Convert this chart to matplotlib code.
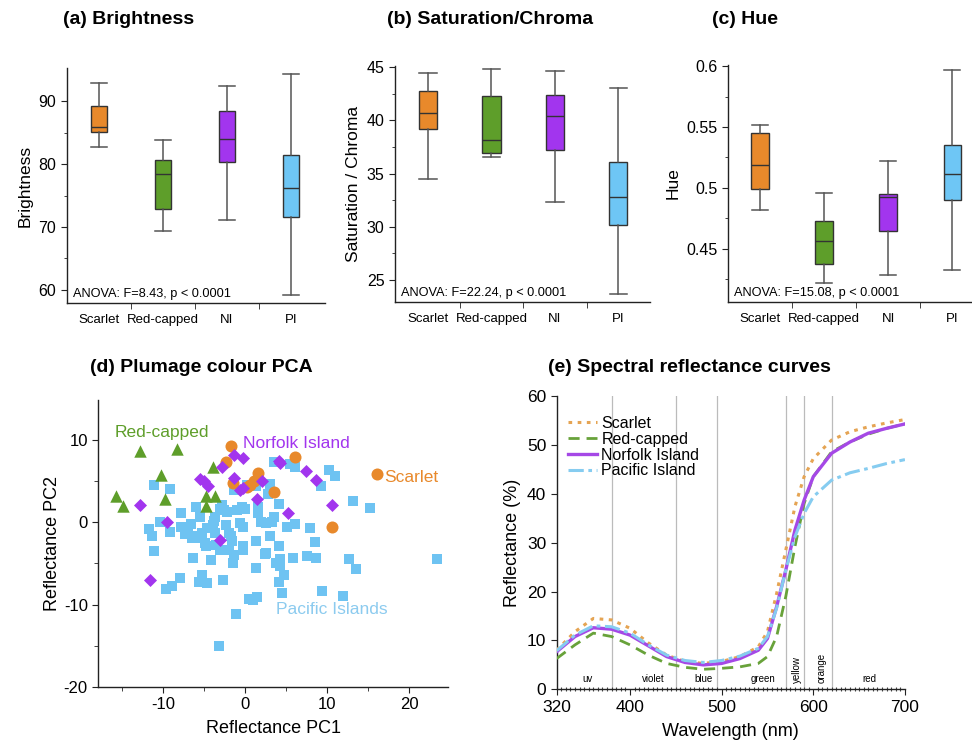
import matplotlib
matplotlib.use("Agg")
import matplotlib.pyplot as plt
from matplotlib.ticker import MultipleLocator, FixedLocator

plt.rcParams['font.family'] = ['Liberation Sans', 'DejaVu Sans']
plt.rcParams['axes.unicode_minus'] = False

# ---------------- data ----------------
groups = ["Scarlet", "Red-capped", "NI", "PI"]
box_colors = ["#E8892B", "#5E9E2A", "#A235EE", "#6EC6F5"]

# box summaries: whisker low, q1, median, q3, whisker high
bright_lo = [82.8, 69.4, 71.1, 59.1]
bright_q1 = [85.1, 72.8, 80.4, 71.6]
bright_med = [86.0, 78.5, 84.0, 76.2]
bright_q3 = [89.3, 80.7, 88.5, 81.5]
bright_hi = [92.9, 83.8, 92.4, 94.4]

sat_lo = [34.5, 36.6, 32.3, 23.7]
sat_q1 = [39.2, 36.9, 37.2, 30.2]
sat_med = [40.7, 38.2, 40.4, 32.8]
sat_q3 = [42.8, 42.3, 42.4, 36.1]
sat_hi = [44.4, 44.8, 44.6, 43.0]

hue_lo = [0.482, 0.422, 0.428, 0.432]
hue_q1 = [0.499, 0.437, 0.4645, 0.490]
hue_med = [0.519, 0.456, 0.4926, 0.511]
hue_q3 = [0.545, 0.473, 0.4945, 0.5355]
hue_hi = [0.5516, 0.496, 0.5224, 0.597]

anova_bright = "ANOVA: F=8.43, p < 0.0001"
anova_sat = "ANOVA: F=22.24, p < 0.0001"
anova_hue = "ANOVA: F=15.08, p < 0.0001"

# PCA scores
pi_x = [3.5, 5.5, 6.1, 10.3, 11.0, 9.3, 13.2, 15.2,
        -11.1, -9.1, 3.0, 2.8, 4.1, 1.4, -1.4, 0.3,
        -7.8, -10.4, -11.7, -11.3, -11.1, -9.1, -7.8, -6.9, -6.6, -6.0, -5.5, -6.1, -5.6, -5.2, -4.9, -4.7, -4.1, -6.3, -3.5,
        -2.8, -3.1, -3.7, -3.8, -2.6, -2.2, -2.3, -2.0, -1.7, -1.6, -3.0, -2.0, -1.3, -1.5,
        -1.0, -0.4, 0.0, -0.6, -0.2, -0.3, -0.3, 1.4, 1.6, 1.6, 2.0, 2.6, 3.3, 3.5, 3.0, 2.6,
        4.1, 4.3, 3.8, 4.3, 4.7, 4.1, 4.5, 5.1, 6.1, 5.8, 7.9, 7.6, 8.5, 8.7, 9.4, 11.9, 12.7, 13.5, 23.4,
        -9.6, -8.9, -7.9, -5.6, -5.2, -4.6, -2.7, 0.5, 1.0, 1.5, -1.1, -3.2,
        -3.9, -3.7, -4.6, -7.3, -6.5, 1.3, 2.5]
pi_y = [7.3, 7.1, 6.7, 6.4, 5.7, 4.4, 2.6, 1.7,
        4.5, 4.1, 4.7, 3.4, 2.3, 4.4, 4.0, 4.5,
        1.1, 0.0, -0.8, -1.6, -3.5, -1.2, -0.5, -1.3, -0.2, 1.9, 0.7, -1.7, -1.9, -1.3, -2.5, -2.9, -4.6, -4.3, -2.8,
        2.1, 1.6, 0.7, 0.2, 1.5, 1.3, -0.3, -1.3, -1.7, -2.3, -3.3, -3.3, -4.0, -4.9,
        1.5, 1.9, 1.6, -0.1, -0.5, -2.9, -3.4, -2.3, 1.9, 1.1, 0.0, -0.1, 0.1, 0.6, -1.7, -3.7,
        -2.9, -4.5, -4.9, -5.3, -6.4, -7.2, -8.6, -0.5, -0.2, -4.3, -0.7, -4.1, -2.4, -4.3, -8.4, -8.9, -4.5, -5.7, -4.5,
        -8.1, -7.8, -6.8, -7.3, -6.4, -7.4, -7.0, -9.3, -9.5, -9.1, -11.1, -15.1,
        -0.3, -1.3, -0.7, -1.4, -1.9, -5.5, -3.8]

rc_x = [-12.8, -8.3, -10.2, -3.9, -15.7, -14.9, -9.8, -4.7, -3.6, -4.8]
rc_y = [8.7, 8.9, 5.8, 6.7, 3.2, 2.0, 2.8, 3.2, 3.2, 2.0]

sc_x = [-1.75, -2.3, 6.1, 1.6, -1.5, 0.6, 1.1, 3.5, 16.1, 10.6, 0.2]
sc_y = [9.3, 7.3, 8.0, 6.0, 4.8, 4.6, 5.0, 3.7, 5.9, -0.6, 4.3]

ni_x = [-1.4, -0.3, -2.8, 4.1, 4.3, 7.4, 8.7, -5.5, -5.0, -4.5, -1.4, -0.6, 2.1, 1.5,
        -12.8, -9.5, 5.3, 10.6, -3.0, -11.6, -0.2]
ni_y = [8.2, 7.8, 6.7, 7.5, 7.2, 6.3, 5.2, 5.3, 5.0, 4.4, 5.4, 4.0, 5.0, 2.9,
        2.1, 0.1, 1.1, 2.1, -2.2, -7.0, 4.2]

# spectral reflectance (%)
wavelength = [320, 340, 360, 380, 400, 420, 440, 460, 480, 500, 520, 540, 550,
              560, 570, 580, 590, 600, 620, 640, 660, 680, 700]
refl_scarlet = [8.0, 11.8, 14.5, 14.2, 12.5, 9.5, 7.0, 5.7, 5.3, 5.7, 6.7, 8.7, 11.8,
                19.6, 28.5, 37.4, 43.5, 47.2, 51.0, 52.7, 53.7, 54.5, 55.2]
refl_redcapped = [6.3, 9.1, 11.5, 10.8, 9.1, 7.0, 5.3, 4.5, 4.1, 4.3, 4.6, 5.3, 6.7,
                  10.8, 19.0, 29.2, 38.0, 43.5, 48.6, 50.6, 52.2, 53.4, 54.3]
refl_norfolk = [7.7, 10.8, 12.6, 12.3, 11.1, 8.9, 6.7, 5.5, 5.0, 5.3, 6.3, 8.0, 10.4,
                16.9, 24.4, 32.6, 38.7, 43.5, 48.3, 50.6, 52.4, 53.4, 54.3]
refl_pacific = [7.9, 11.1, 13.0, 12.8, 11.5, 9.1, 7.0, 5.9, 5.5, 5.9, 6.8, 8.4, 10.8,
                16.6, 24.4, 31.2, 36.0, 39.4, 42.8, 44.3, 45.2, 46.2, 47.0]

band_edges = [380, 450, 495, 570, 590, 620]
band_names = ["uv", "violet", "blue", "green", "yellow", "orange", "red"]
band_centres = [354, 425, 480, 545, 582, 609, 661]

# ---------------- figure ----------------
fig = plt.figure(figsize=(9.72, 7.47), dpi=100)


def style_axes(ax):
    for s in ("top", "right"):
        ax.spines[s].set_visible(False)
    for s in ("left", "bottom"):
        ax.spines[s].set_color("#222222")
        ax.spines[s].set_linewidth(1.0)


def box_panel(rect, lo, q1, med, q3, hi, ylim, yticks, ylabel, anova, xlim, width):
    ax = fig.add_axes(rect)
    stats = []
    for i in range(len(groups)):
        stats.append(dict(whislo=lo[i], q1=q1[i], med=med[i], q3=q3[i],
                          whishi=hi[i], fliers=[], label=groups[i]))
    bp = ax.bxp(stats, positions=[1, 2, 3, 4], widths=width, patch_artist=True,
                showfliers=False,
                boxprops=dict(edgecolor="#333333", linewidth=1.0),
                medianprops=dict(color="#333333", linewidth=1.0),
                whiskerprops=dict(color="#555555", linewidth=1.1),
                capprops=dict(color="#555555", linewidth=1.1),
                capwidths=width * 0.95)
    for patch, c in zip(bp["boxes"], box_colors):
        patch.set_facecolor(c)
    style_axes(ax)
    ax.set_xlim(*xlim)
    ax.set_ylim(*ylim)
    ax.set_xticks([1, 2, 3, 4])
    ax.set_xticklabels(groups, fontsize=9.5)
    ax.tick_params(axis="x", which="major", length=0, pad=8)
    ax.xaxis.set_minor_locator(FixedLocator([1.5, 2.5, 3.5]))
    ax.tick_params(axis="x", which="minor", length=4, direction="out", color="#222222")
    ax.set_yticks(yticks)
    ax.tick_params(axis="y", which="major", labelsize=11.5, length=4, color="#222222")
    ax.set_ylabel(ylabel, fontsize=12.5, labelpad=4)
    ax.text(0.025, 0.012, anova, transform=ax.transAxes, fontsize=9.2,
            ha="left", va="bottom")
    return ax


axa = box_panel([0.0686, 0.5948, 0.2657, 0.3138], bright_lo, bright_q1, bright_med,
                bright_q3, bright_hi, (57.9, 95.3), [60, 70, 80, 90], "Brightness",
                anova_bright, (0.495, 4.53), 0.26)
axa.yaxis.set_minor_locator(FixedLocator([65, 75, 85]))
axa.tick_params(axis="y", which="minor", length=2.5, color="#222222")

axb = box_panel([0.4064, 0.5961, 0.2623, 0.3155], sat_lo, sat_q1, sat_med,
                sat_q3, sat_hi, (22.97, 45.1), [25, 30, 35, 40, 45], "Saturation / Chroma",
                anova_sat, (0.48, 4.5), 0.29)
axb.yaxis.set_minor_locator(FixedLocator([27.5, 32.5, 37.5, 42.5]))
axb.tick_params(axis="y", which="minor", length=2.5, color="#222222")

axc = box_panel([0.7493, 0.5961, 0.2507, 0.3169], hue_lo, hue_q1, hue_med,
                hue_q3, hue_hi, (0.4063, 0.601), [0.45, 0.5, 0.55, 0.6], "Hue",
                anova_hue, (0.505, 4.31), 0.27)
axc.set_yticklabels(["0.45", "0.5", "0.55", "0.6"])
axc.yaxis.set_minor_locator(FixedLocator([0.425, 0.475, 0.525, 0.575]))
axc.tick_params(axis="y", which="minor", length=2.5, color="#222222")

fig.text(63 / 972, 1 - 20 / 747, "(a) Brightness", fontsize=14, fontweight="bold", va="center")
fig.text(387 / 972, 1 - 20 / 747, "(b) Saturation/Chroma", fontsize=14, fontweight="bold", va="center")
fig.text(712 / 972, 1 - 20 / 747, "(c) Hue", fontsize=14, fontweight="bold", va="center")

# ---------------- (d) PCA scatter ----------------
axd = fig.add_axes([0.1011, 0.0807, 0.3601, 0.3838])
style_axes(axd)
c_pi, c_rc, c_sc, c_ni = "#6EC3F2", "#5E9E2A", "#E8892B", "#A235EE"
axd.scatter(pi_x, pi_y, marker="s", s=48, color=c_pi, linewidths=0, zorder=2)
axd.scatter(rc_x, rc_y, marker="^", s=80, color=c_rc, linewidths=0, zorder=3)
axd.scatter(sc_x, sc_y, marker="o", s=75, color=c_sc, linewidths=0, zorder=3)
axd.scatter(ni_x, ni_y, marker="D", s=44, color=c_ni, linewidths=0, zorder=4)
axd.set_xlim(-17.9, 24.8)
axd.set_ylim(-20, 14.9)
axd.set_xticks([-10, 0, 10, 20])
axd.set_yticks([-20, -10, 0, 10])
axd.xaxis.set_minor_locator(FixedLocator([-15, -5, 5, 15]))
axd.yaxis.set_minor_locator(FixedLocator([-15, -5, 5]))
axd.tick_params(which="major", labelsize=12, length=4, color="#222222")
axd.tick_params(which="minor", length=3, color="#222222")
axd.set_xlabel("Reflectance PC1", fontsize=13, labelpad=6)
axd.set_ylabel("Reflectance PC2", fontsize=13, labelpad=2)
axd.text(-15.9, 11.0, "Red-capped", color=c_rc, fontsize=12.5, va="center")
axd.text(-0.2, 9.6, "Norfolk Island", color=c_ni, fontsize=12.5, va="center")
axd.text(17.0, 5.5, "Scarlet", color=c_sc, fontsize=12.5, va="center")
axd.text(3.8, -10.6, "Pacific Islands", color="#8CCBEF", fontsize=12.5, va="center")
fig.text(90 / 972, 1 - 368 / 747, "(d) Plumage colour PCA", fontsize=14, fontweight="bold", va="center")

# ---------------- (e) spectral curves ----------------
axe = fig.add_axes([0.5727, 0.0772, 0.3583, 0.3926])
style_axes(axe)
for b in band_edges:
    axe.axvline(b, color="#BBBBBB", linewidth=0.9, zorder=1)
axe.plot(wavelength, refl_scarlet, linestyle=(0, (1.2, 1.8)), color="#E5A453",
         linewidth=2.2, label="Scarlet", zorder=3)
axe.plot(wavelength, refl_redcapped, linestyle=(0, (4, 2.5)), color="#68A23A",
         linewidth=2.0, label="Red-capped", zorder=3)
axe.plot(wavelength, refl_norfolk, linestyle="-", color="#A548E6",
         linewidth=2.4, label="Norfolk Island", zorder=3)
axe.plot(wavelength, refl_pacific, linestyle=(0, (5, 1.5, 1.2, 1.5)), color="#86CCF0",
         linewidth=2.2, label="Pacific Island", zorder=3)
for name, c in zip(band_names, band_centres):
    rot = 90 if name in ("yellow", "orange") else 0
    axe.text(c, 1.0 if rot == 0 else 1.3, name, fontsize=7, ha="center",
             va="bottom", rotation=rot)
axe.set_xlim(320, 700)
axe.set_ylim(0, 60)
axe.set_xticks([320, 400, 500, 600, 700])
axe.set_yticks([0, 10, 20, 30, 40, 50, 60])
axe.xaxis.set_minor_locator(MultipleLocator(5))
axe.tick_params(which="major", labelsize=12.5, length=4, color="#222222")
axe.tick_params(axis="x", which="minor", length=3, direction="inout", color="#444444", width=0.8)
axe.set_xlabel("Wavelength (nm)", fontsize=13, labelpad=6)
axe.set_ylabel("Reflectance (%)", fontsize=13, labelpad=4)
leg = axe.legend(loc="upper left", bbox_to_anchor=(0.0, 0.97), frameon=False,
                 fontsize=11.5, handlelength=1.8, handletextpad=0.3, labelspacing=0.05,
                 borderaxespad=0.3)
fig.text(548 / 972, 1 - 368 / 747, "(e) Spectral reflectance curves", fontsize=14,
         fontweight="bold", va="center")

fig.savefig("out.png", dpi=100)
